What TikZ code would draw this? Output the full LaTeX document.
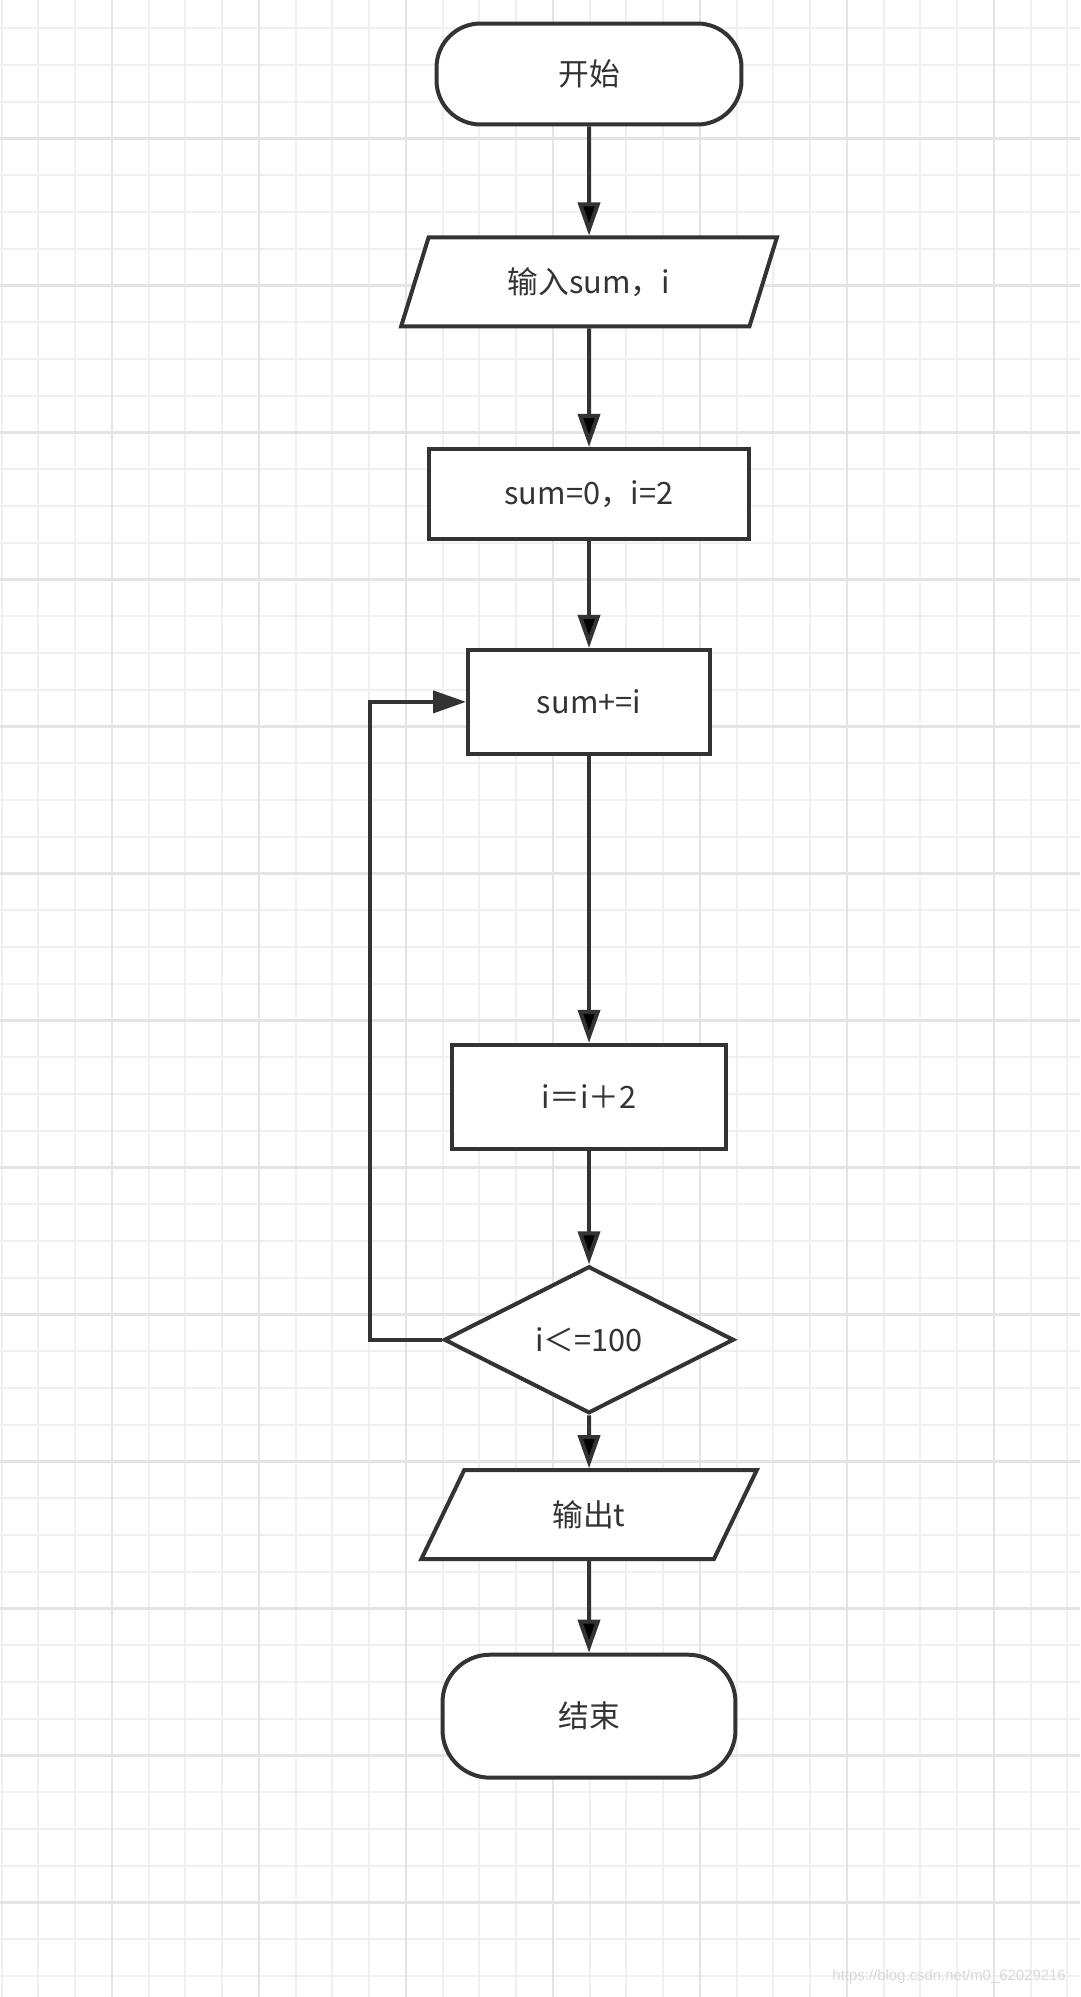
\documentclass[tikz,border=0pt]{standalone}
\usepackage{fontspec}
\setmainfont{Noto Sans CJK SC}
\newfontfamily\wmfont{Liberation Sans}
\usetikzlibrary{shapes.geometric,arrows.meta,positioning}
\definecolor{ink}{HTML}{333333}
\definecolor{gridminor}{HTML}{F0F0F0}
\definecolor{gridmajor}{HTML}{E4E4E4}

\begin{document}
\begin{tikzpicture}[x=0.02cm, y=-0.02cm, node distance = 4cm, on grid,
    base/.style = {draw=ink, line width=0.08cm, fill=white, text=ink, font=\fontsize{17.5}{21}\selectfont},
    term/.style = {base, rectangle, rounded corners=0.88cm, minimum width=6.1cm, minimum height=2.02cm},
    io/.style = {base, trapezium, trapezium left angle=70, trapezium right angle=110, trapezium stretches=true, minimum height=1.78cm},
    proc/.style = {base, rectangle, minimum height=2.08cm},
    decision/.style = {base, diamond, aspect=2, minimum width=5.8cm, minimum height=2.94cm},
    line/.style = {draw=ink, line width=0.08cm, -{Triangle[length=0.66cm, width=0.44cm]}}]
    \useasboundingbox (0,0) rectangle (1080,1997);
    \fill[white] (0,0) rectangle (1080,1997);
    % grid paper
    \foreach \k in {0,...,29}
        \draw[gridminor, line width=0.04cm] ({1.7+36.75*\k},0) -- ++(0,1997);
    \foreach \k in {0,...,53}
        \draw[gridminor, line width=0.04cm] (0,{28.3+36.75*\k}) -- ++(1080,0);
    \foreach \k in {3,7,...,27}
        \draw[gridmajor, line width=0.05cm] ({1.7+36.75*\k},0) -- ++(0,1997);
    \foreach \k in {3,7,...,51}
        \draw[gridmajor, line width=0.05cm] (0,{28.3+36.75*\k}) -- ++(1080,0);

    \node[term] (start) at (589,74) {开始};
    \node[io, minimum width=7.52cm] (input) [below=4.16cm of start] {输入sum，i};
    \node[proc, minimum width=6.4cm, minimum height=1.8cm] (init) [below=4.24cm of input] {sum=0，i=2};
    \node[proc, minimum width=4.84cm] (sum) [below=4.16cm of init] {sum+=i};
    \node[proc, minimum width=5.48cm] (inc) [below=7.9cm of sum] {i＝i＋2};
    \node[decision] (cond) [below=4.86cm of inc] {i＜=100};
    \node[io, minimum width=6.72cm] (output) [below=3.5cm of cond] {输出t};
    \node[term, minimum width=5.86cm, minimum height=2.46cm, rounded corners=0.95cm] (stop) [below=4.03cm of output] {结束};

    \path[line]
    (start) edge (input)
    (input) edge (init)
    (init) edge (sum)
    (sum) edge (inc)
    (inc) edge (cond)
    (cond) edge (output)
    (output) edge (stop);
    \draw[line] (cond.west) -- ++(-72,0) |- (sum.west);

    \node[font=\wmfont\fontsize{8.5}{10}\selectfont, text=gray!30, anchor=east] (mark) at (1072,1977) {https://blog.csdn.net/m0\_62029216};
\end{tikzpicture}
\end{document}
